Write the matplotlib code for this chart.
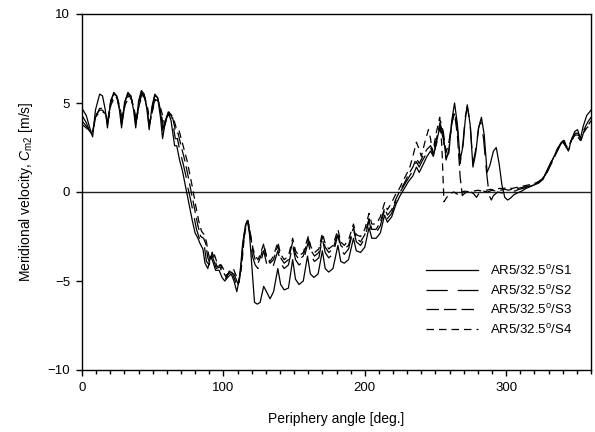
import matplotlib
matplotlib.use("Agg")
import matplotlib.pyplot as plt
from matplotlib.ticker import MultipleLocator

plt.rcParams['font.family'] = ['Liberation Sans', 'DejaVu Sans']
plt.rcParams['mathtext.fontset'] = 'custom'
plt.rcParams['mathtext.rm'] = 'Liberation Sans'
plt.rcParams['mathtext.it'] = 'Liberation Sans:italic'

# ---- data (angle in deg, Cm2 in m/s) ----
ang_s1 = [0, 3, 5.5, 7.5, 9.5, 12.5, 14.5, 16.5, 18, 20, 22.5, 24.5, 26.5, 28, 30, 32.5, 34.5, 36.5, 38, 40,
          42, 44, 46, 47.5, 49.5, 51.5, 53.5, 55.5, 57, 59, 61, 63, 65.5, 67, 69, 71, 72.5, 74, 76, 78,
          80, 82, 83.5, 85.5, 87, 89, 91, 92.5, 94.5, 97, 99, 101, 103, 105.5, 107.5, 109.5, 111.5, 113.5, 115.5, 117,
          118.5, 120, 122, 124, 126, 128.5, 130.5, 133, 135.5, 138.5, 140.5, 143, 146, 149, 151, 153.5, 156.5, 159.5, 161.5, 164,
          167, 170, 172, 174.5, 177.5, 181, 183, 185.5, 188.5, 192, 194, 197, 200, 203, 205, 208, 211, 214, 216, 219,
          222, 225, 228, 231, 234, 236.5, 238.5, 241, 244, 246.5, 248.5, 251, 253.5, 255.5, 257.5, 259.5, 261.5, 263.5, 265.5, 267.5,
          269.5, 271, 272.5, 274.5, 276.5, 278.5, 280.5, 282.5, 284.5, 286.5, 288.5, 291, 293, 295, 297, 299, 301, 303, 305.5, 308,
          311, 314, 317, 320, 323, 326, 329, 332, 335, 338, 340.5, 342, 344, 346, 348.5, 350.5, 352.5, 354.5, 357, 360]
cm_s1 = [4.7, 4.3, 3.6, 3.1, 4.6, 5.5, 5.4, 4.6, 3.6, 5.0, 5.6, 5.4, 4.6, 3.6, 5.0, 5.6, 5.4, 4.6, 3.6, 5.1,
         5.7, 5.5, 4.6, 3.5, 4.8, 5.5, 5.3, 4.2, 3.0, 4.0, 4.5, 4.0, 2.6, 2.6, 1.8, 1.2, 0.6, 0.0, -0.8, -1.6,
         -2.3, -2.6, -2.9, -3.2, -4.0, -4.3, -3.6, -3.9, -4.4, -4.4, -4.8, -5.0, -4.8, -4.6, -5.0, -5.6, -4.8, -3.0, -1.9, -1.6,
         -2.4, -4.0, -6.2, -6.3, -6.2, -5.3, -5.6, -6.0, -5.6, -4.3, -5.2, -5.5, -5.4, -3.8, -4.9, -5.2, -5.0, -3.6, -4.6, -4.8,
         -4.6, -3.3, -4.3, -4.5, -4.3, -3.0, -3.9, -4.0, -3.8, -2.6, -3.3, -3.4, -3.1, -2.0, -2.6, -2.6, -2.3, -1.3, -1.7, -1.4,
         -0.7, -0.2, 0.2, 0.6, 0.9, 1.4, 1.1, 1.5, 2.0, 2.3, 2.0, 2.9, 3.8, 3.2, 1.9, 2.2, 4.0, 5.0, 3.8, 1.8,
         2.6, 4.0, 4.9, 3.8, 1.4, 2.2, 3.6, 4.2, 3.2, 1.1, 1.5, 2.3, 2.5, 1.6, 0.4, -0.3, -0.45, -0.35, -0.15, -0.05,
         0.05, 0.2, 0.3, 0.4, 0.5, 0.7, 1.2, 1.7, 2.2, 2.6, 2.9, 2.6, 2.3, 2.9, 3.4, 3.5, 3.0, 3.7, 4.3, 4.6]

ang_s2 = [0, 3, 5.5, 7.5, 9.5, 12.5, 14.5, 16.5, 18, 20, 22.5, 24.5, 26.5, 28, 30, 32.5, 34.5, 36.5, 38, 40,
          42, 44, 46, 47.5, 49.5, 51.5, 53.5, 55.5, 57.5, 59.5, 61.5, 63.5, 66, 67.5, 69.5, 71.5, 73.5, 75, 77, 79,
          81, 83, 85, 86.5, 88, 90, 91.5, 93, 95, 97.5, 99.5, 101.5, 103.5, 106, 108, 110, 112, 114, 115.8, 117.2,
          118.7, 120.5, 122.5, 124.5, 126.5, 128.5, 130.5, 133, 135.5, 138.5, 140.5, 143, 146, 149, 151, 153.5, 156.5, 160, 162, 164.5,
          167.5, 170, 172, 174.5, 177.5, 181, 183, 185.5, 188.5, 192, 194, 197, 200, 203, 205, 208, 211, 214, 216, 219,
          222, 225, 228, 231, 234, 236.5, 238.5, 241, 244, 246.5, 248.5, 251, 253.5, 255.5, 257.5, 259.5, 261.5, 263.5, 265.5, 267.5,
          269.5, 271, 272.5, 274.5, 276.5, 278.5, 280.5, 282, 284, 286, 288, 289.5, 291, 294, 297, 300, 303, 306, 309, 312,
          315, 318, 321, 324, 327, 330, 333, 336, 339, 341, 342.5, 344.5, 346.5, 349, 351, 353, 355, 357.5, 360]
cm_s2 = [4.3, 3.9, 3.4, 3.2, 4.2, 4.7, 4.7, 4.5, 3.8, 5.1, 5.5, 5.4, 4.7, 3.8, 5.0, 5.5, 5.4, 4.7, 3.8, 5.0,
         5.6, 5.4, 4.7, 3.7, 4.7, 5.4, 5.3, 4.5, 3.3, 4.1, 4.5, 4.2, 3.0, 3.0, 2.2, 1.6, 0.9, 0.2, -0.5, -1.3,
         -2.1, -2.6, -2.8, -3.0, -3.9, -4.1, -3.5, -3.8, -4.3, -4.2, -4.6, -4.9, -4.6, -4.5, -4.9, -5.4, -4.5, -2.8, -1.8, -1.6,
         -2.3, -3.6, -4.1, -4.3, -3.9, -3.3, -4.0, -4.3, -4.1, -3.3, -4.0, -4.3, -4.1, -3.0, -3.8, -4.1, -3.9, -2.8, -3.6, -3.9,
         -3.7, -2.6, -3.4, -3.7, -3.5, -2.4, -3.2, -3.5, -3.2, -2.1, -2.8, -3.0, -2.6, -1.6, -2.3, -2.3, -1.9, -1.0, -1.5, -1.2,
         -0.5, 0.0, 0.4, 0.8, 1.2, 1.7, 1.4, 1.8, 2.2, 2.5, 2.1, 2.8, 3.6, 3.0, 1.8, 2.4, 3.8, 4.6, 3.6, 1.6,
         2.8, 4.2, 4.8, 3.9, 1.6, 2.4, 3.6, 4.0, 3.0, 1.2, -0.2, -0.45, -0.2, 0.0, -0.05, 0.05, 0.1, 0.05, 0.15, 0.2,
         0.3, 0.35, 0.45, 0.6, 0.9, 1.4, 1.9, 2.4, 2.8, 2.9, 2.6, 2.4, 3.0, 3.3, 3.3, 2.9, 3.5, 3.9, 4.2]

ang_s3 = [0, 3, 5.5, 7.5, 9.5, 12.5, 14.5, 16.5, 18.3, 20.3, 22.8, 24.8, 26.8, 28.3, 30.3, 32.8, 34.8, 36.8, 38.3, 40.3,
          42.3, 44.3, 46.3, 47.8, 49.8, 51.8, 53.8, 55.8, 58, 60, 62, 64, 66.5, 68, 70, 72, 74, 76, 78, 80,
          82, 84, 86, 87.5, 89, 90.5, 92, 93.5, 95.5, 98, 100, 102, 104, 106.5, 108.5, 110.5, 112.5, 114.3, 116, 117.4,
          119, 120.8, 122.5, 124.5, 126.5, 128.5, 130.5, 133, 135.5, 138.5, 140.5, 143, 146, 149, 151, 153.5, 156.5, 160, 162, 164.5,
          167.5, 170, 172, 174.5, 177.5, 181, 183, 185.5, 188.5, 192, 194, 197, 200, 203, 205, 208, 211, 214, 216, 219,
          222, 225, 228, 231, 234, 236.5, 238.5, 241, 244, 246.5, 248.5, 251, 253.5, 255.5, 257.5, 259.5, 261.5, 263.5, 265.5, 267.5,
          269, 271, 274, 277, 279, 281, 284, 287, 290, 293, 296, 299, 302, 305, 308, 311, 314, 317, 320, 323,
          326, 329, 332, 335, 338, 340.5, 342.5, 344.5, 346.5, 349, 351, 353, 355, 357.5, 360]
cm_s3 = [4.0, 3.7, 3.4, 3.3, 4.3, 4.6, 4.6, 4.4, 3.9, 5.0, 5.4, 5.3, 4.6, 3.9, 4.9, 5.4, 5.3, 4.6, 3.9, 4.9,
         5.5, 5.3, 4.6, 3.8, 4.6, 5.3, 5.2, 4.5, 3.5, 4.2, 4.4, 4.2, 3.3, 3.3, 2.6, 2.0, 1.3, 0.5, -0.3, -1.1,
         -1.9, -2.5, -2.6, -2.9, -3.7, -4.0, -3.4, -3.7, -4.2, -4.1, -4.5, -4.8, -4.5, -4.4, -4.8, -5.2, -4.3, -2.7, -1.8, -1.6,
         -2.3, -3.3, -3.8, -4.0, -3.6, -3.0, -3.7, -4.0, -3.8, -3.0, -3.7, -4.0, -3.8, -2.8, -3.5, -3.8, -3.6, -2.6, -3.3, -3.6,
         -3.4, -2.5, -3.1, -3.4, -3.2, -2.3, -3.0, -3.2, -3.0, -2.0, -2.6, -2.8, -2.4, -1.5, -2.1, -2.1, -1.7, -0.9, -1.3, -1.0,
         -0.4, 0.1, 0.5, 1.0, 1.4, 1.9, 1.6, 2.0, 2.4, 2.6, 2.3, 3.1, 4.0, 3.4, 2.2, 2.8, 3.9, 4.4, 3.2, 0.8,
         -0.2, -0.05, 0.05, -0.1, -0.3, -0.05, 0.05, 0.0, 0.1, 0.05, 0.1, 0.15, 0.1, 0.2, 0.2, 0.25, 0.3, 0.35, 0.45, 0.55,
         0.75, 1.1, 1.6, 2.1, 2.6, 2.8, 2.5, 2.4, 3.0, 3.2, 3.2, 2.9, 3.4, 3.7, 4.0]

ang_s4 = [0, 3, 5.5, 7.5, 9.5, 12.5, 14.5, 16.5, 18.5, 20.5, 23, 25, 27, 28.5, 30.5, 33, 35, 37, 38.5, 40.5,
          42.5, 44.5, 46.5, 48, 50, 52, 54, 56, 58.5, 60.5, 62.5, 64.5, 67, 68.5, 70.5, 72.5, 74.5, 76.5, 78.5, 80.5,
          82.5, 84.5, 86.5, 88, 89.5, 91, 92.5, 94, 96, 98.5, 100.5, 102.5, 104.5, 107, 109, 111, 113, 114.7, 116.2, 117.6,
          119.2, 121, 122.7, 124.5, 126.5, 128.5, 130.5, 133, 135.5, 138.5, 140.5, 143, 146, 149, 151, 153.5, 156.5, 160, 162, 164.5,
          167.5, 170, 172, 174.5, 177.5, 181, 183, 185.5, 188.5, 192, 194, 197, 200, 203, 205, 208, 211, 214, 216, 219,
          222, 224.5, 227, 229.5, 231.5, 234, 236.5, 238.5, 240, 242.5, 245, 246.5, 248, 250.5, 253, 254.5, 256, 258, 260, 263,
          266, 268, 271, 274, 277, 280, 283, 286, 289, 292, 295, 298, 301, 304, 307, 310, 313, 316, 319, 322,
          325, 328, 331, 334, 337, 340, 342, 344, 346, 348.5, 350.5, 352.5, 354.5, 357, 360]
cm_s4 = [3.8, 3.6, 3.4, 3.4, 4.2, 4.5, 4.5, 4.4, 4.0, 4.9, 5.3, 5.3, 4.7, 4.0, 4.9, 5.3, 5.2, 4.6, 4.0, 4.9,
         5.4, 5.3, 4.7, 3.9, 4.6, 5.2, 5.1, 4.6, 3.8, 4.3, 4.4, 4.2, 3.5, 3.5, 2.9, 2.3, 1.7, 0.9, 0.1, -0.8,
         -1.6, -2.2, -2.4, -2.8, -3.5, -3.9, -3.3, -3.6, -4.1, -4.1, -4.4, -4.7, -4.4, -4.3, -4.7, -5.1, -4.1, -2.6, -1.8, -1.7,
         -2.4, -3.2, -3.6, -3.8, -3.4, -2.9, -3.6, -3.9, -3.6, -2.8, -3.5, -3.8, -3.6, -2.6, -3.3, -3.6, -3.4, -2.5, -3.1, -3.4,
         -3.2, -2.3, -2.9, -3.2, -3.0, -2.1, -2.8, -3.0, -2.7, -1.8, -2.4, -2.5, -2.1, -1.2, -1.8, -1.8, -1.4, -0.6, -1.0, -0.6,
         -0.1, 0.2, 0.6, 1.0, 1.3, 2.0, 2.8, 2.4, 2.0, 2.8, 3.5, 3.0, 2.2, 3.3, 4.2, 2.6, -0.55, -0.3, -0.1, 0.0,
         -0.15, 0.0, 0.05, 0.0, 0.05, 0.1, 0.05, 0.1, 0.15, 0.1, 0.2, 0.2, 0.25, 0.2, 0.25, 0.3, 0.35, 0.4, 0.45, 0.55,
         0.7, 1.0, 1.5, 2.0, 2.5, 2.8, 2.6, 2.5, 2.9, 3.1, 3.1, 2.9, 3.3, 3.6, 3.8]

labels = [r'AR5/32.5$^{\mathrm{o}}$/S1', r'AR5/32.5$^{\mathrm{o}}$/S2',
          r'AR5/32.5$^{\mathrm{o}}$/S3', r'AR5/32.5$^{\mathrm{o}}$/S4']

fig = plt.figure(figsize=(5.95, 4.32), dpi=100)
ax = fig.add_axes([82 / 595, 62 / 432, 509 / 595, 356 / 432])

lw = 0.9
ax.plot(ang_s1, cm_s1, color='black', lw=lw, label=labels[0])
ax.plot(ang_s2, cm_s2, color='black', lw=lw, dashes=(17, 8), label=labels[1])
ax.plot(ang_s3, cm_s3, color='black', lw=lw, dashes=(10, 4), label=labels[2])
ax.plot(ang_s4, cm_s4, color='black', lw=lw, dashes=(6, 4), label=labels[3])
ax.axhline(0, color='#222222', lw=1.0, zorder=1)

ax.set_xlim(0, 360)
ax.set_ylim(-10, 10)
ax.xaxis.set_major_locator(MultipleLocator(100))
ax.xaxis.set_minor_locator(MultipleLocator(10))
ax.yaxis.set_major_locator(MultipleLocator(5))
ax.tick_params(which='both', direction='out', width=1, labelsize=9.5, right=False, top=False)
ax.tick_params(which='major', length=4.5, pad=4)
ax.tick_params(which='minor', length=3)
for s in ax.spines.values():
    s.set_linewidth(1)

ax.set_xlabel('Periphery angle [deg.]', fontsize=10, labelpad=13)
ax.set_ylabel(r'Meridional velocity, $C_{\mathrm{m2}}$ [m/s]', fontsize=10, labelpad=9)

ax.legend(loc='upper left', bbox_to_anchor=(0.675, 0.298), frameon=False, fontsize=9.5,
          handlelength=4.0, handletextpad=0.9, labelspacing=0.42, borderpad=0, borderaxespad=0)

fig.savefig('out.png', dpi=100)
